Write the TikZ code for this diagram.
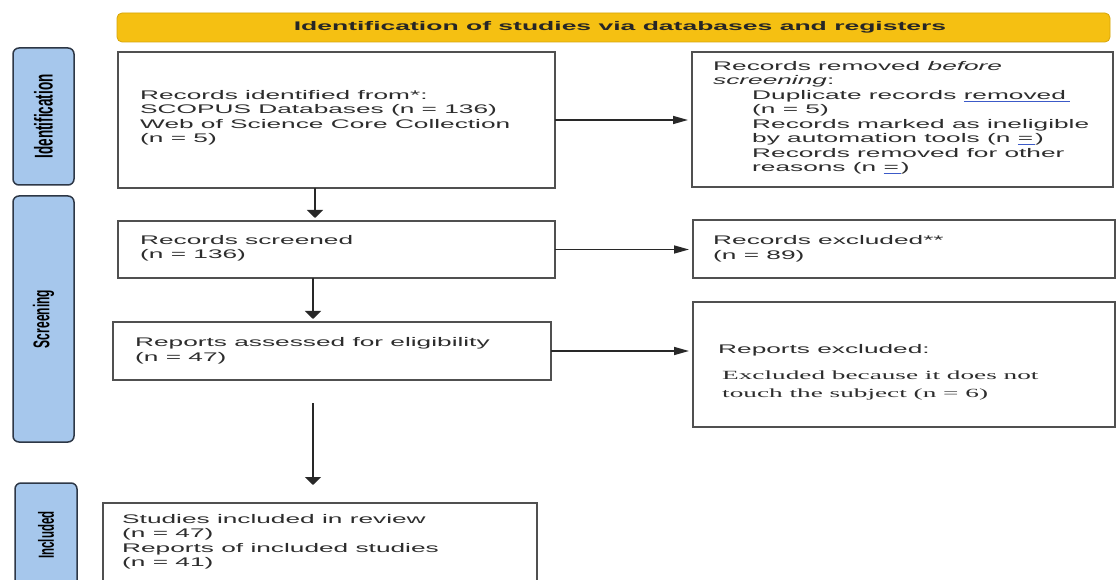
\documentclass[tikz,border=0pt]{standalone}
\usepackage{fontspec}
\usepackage{graphicx}
\setmainfont{Liberation Sans}
\newfontfamily\arialw[FakeStretch=2.1]{Liberation Sans}
\newfontfamily\arialh[FakeStretch=2.12]{Liberation Sans}
\newfontfamily\timesw[FakeStretch=2.18]{Liberation Serif}
\newfontfamily\arialplain{Liberation Sans}
\usetikzlibrary{arrows.meta,calc}
\definecolor{txtc}{RGB}{45,45,45}
\definecolor{boxc}{RGB}{80,80,80}
\definecolor{arrc}{RGB}{40,40,40}
\definecolor{hdrfill}{RGB}{245,192,18}
\definecolor{hdrdraw}{RGB}{215,165,10}
\definecolor{sidefill}{RGB}{166,199,236}
\definecolor{sidedraw}{RGB}{45,55,70}
\definecolor{ulblue}{RGB}{60,90,200}
\newcommand{\bul}[1]{\rlap{\textcolor{ulblue}{\underline{\phantom{#1}}}}#1}
\tikzset{
  box/.style={draw=boxc, line width=1.6pt, fill=white, inner sep=0pt, outer sep=0pt},
  sidebar/.style={draw=sidedraw, line width=1.5pt, fill=sidefill, rounded corners=6pt, inner sep=0pt},
  hdrbox/.style={draw=hdrdraw, line width=0.8pt, fill=hdrfill, rounded corners=5pt, inner sep=0pt,
    font={\arialh\bfseries\fontsize{12.5}{14}\selectfont}, text=black!85},
  txt/.style={inner sep=0pt, anchor=west, align=left, text=txtc,
    font={\arialw\fontsize{12.5}{14.5}\selectfont}},
  serif/.style={inner sep=0pt, anchor=west, align=left, text=txtc,
    font={\timesw\fontsize{12.5}{18}\selectfont}},
  sidelabel/.style={rotate=90, inner sep=0pt, text=black, font={\arialplain\bfseries}},
  varr/.style={draw=arrc, line width=2.4pt, -{Triangle[length=8pt,width=16pt]}, shorten >=3pt},
  harr/.style={draw=arrc, line width=1.6pt, -{Triangle[length=15pt,width=8pt]}, shorten >=4pt}
}
\begin{document}
\begin{tikzpicture}[x=1pt,y=-1pt]
\useasboundingbox (0,0) rectangle (1120,580);
\fill[white] (0,0) rectangle (1120,580);

% header
\node[hdrbox, minimum width=993, minimum height=29] (hdr) at (613.5,27.5)
  {\hspace*{13pt}Identification of studies via databases and registers};

% side bars
\node[sidebar, minimum width=61, minimum height=137] (s1) at (43.5,116.5) {};
\node[sidebar, minimum width=61, minimum height=246] (s2) at (43.5,319) {};
\node[sidebar, minimum width=62, minimum height=130] (s3) at (46,548) {};
\node[sidelabel] (l1) at (s1.center) {\fontsize{13.5}{14}\selectfont\scalebox{1}[1.9]{Identification}};
\node[sidelabel] (l2) at (s2.center) {\fontsize{12}{14}\selectfont\scalebox{1}[1.9]{Screening}};
\node[sidelabel] (l3) at (46,535) {\fontsize{11.5}{14}\selectfont\scalebox{1}[1.9]{Included}};

% boxes
\node[box, minimum width=437, minimum height=136] (b1) at (336.5,120) {};
\node[box, minimum width=421, minimum height=135] (b2) at (902.5,119.5) {};
\node[box, minimum width=437, minimum height=57] (b3) at (336.5,249.5) {};
\node[box, minimum width=422, minimum height=58] (b4) at (904,249) {};
\node[box, minimum width=438, minimum height=58] (b5) at (332,351) {};
\node[box, minimum width=422, minimum height=125] (b6) at (904,364.5) {};
\node[box, minimum width=434, minimum height=97] (b7) at (320,551.5) {};

% texts
\node[txt] (t1) at (140,118) {Records identified from*:\\SCOPUS Databases (n = 136)\\Web of Science Core Collection\\(n = 5)};
\node[txt] (t2) at (713,118) {Records removed \textit{before}\\\textit{screening}:\\
\hspace*{39pt}Duplicate records \bul{removed\,\,}\\
\hspace*{39pt}(n = 5)\\
\hspace*{39pt}Records marked as ineligible\\
\hspace*{39pt}by automation tools (n \bul{=\,})\\
\hspace*{39pt}Records removed for other\\
\hspace*{39pt}reasons (n \bul{=\,})};
\node[txt] (t3) at (140,248.5) {Records screened\\(n = 136)};
\node[txt] (t4) at (713,249) {Records excluded**\\(n = 89)};
\node[txt] (t5) at (135,351) {Reports assessed for eligibility\\(n = 47)};
\node[txt] (t6) at (718,350) {Reports excluded:};
\node[serif] (t6b) at (722,385) {Excluded because it does not\\touch the subject (n = 6)};
\node[txt] (t7) at (122,542) {Studies included in review\\(n = 47)\\Reports of included studies\\(n = 41)};

% connectors
\coordinate (ax) at (315,0);
\coordinate (bx) at (313,0);
\coordinate (c7) at (313,403);
\draw[varr] (b1.south -| ax) -- (b3.north -| ax);
\draw[varr] (b3.south -| bx) -- (b5.north -| bx);
\draw[varr, shorten >=18pt] (c7) -- (c7 |- b7.north);
\draw[harr] (b1.east) -- (b1.east -| b2.west);
\draw[harr] (b3.east) -- (b3.east -| b4.west);
\draw[harr] (b5.east) -- (b5.east -| b6.west);
\end{tikzpicture}
\end{document}
